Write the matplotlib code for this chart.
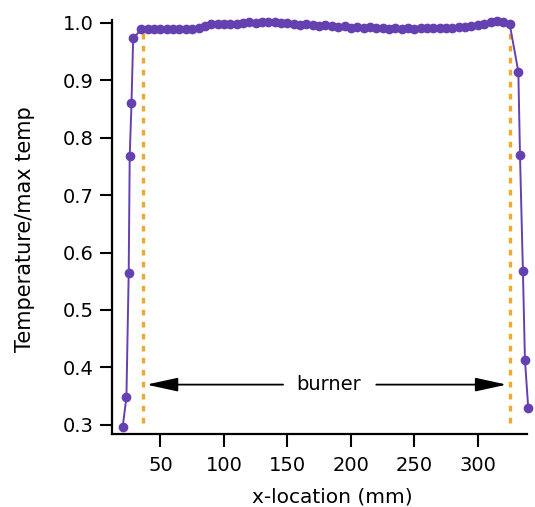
import matplotlib
matplotlib.use("Agg")
import matplotlib.pyplot as plt

plt.rcParams['font.family'] = ['DejaVu Sans']

# ---- data ----
x_mm = [20.3, 23.2, 25.0, 25.8, 27.2, 28.5,
        35, 40, 45, 50, 55, 60, 65, 70, 75, 80, 85, 90, 95, 100,
        105, 110, 115, 120, 125, 130, 135, 140, 145, 150, 155, 160,
        165, 170, 175, 180, 185, 190, 195, 200, 205, 210, 215, 220,
        225, 230, 235, 240, 245, 250, 255, 260, 265, 270, 275, 280,
        285, 290, 295, 300, 305, 310, 315, 320, 325,
        331.9, 333.2, 335.5, 337.1, 339.7]
temp_ratio = [0.297, 0.348, 0.565, 0.768, 0.860, 0.973,
              0.989, 0.990, 0.990, 0.990, 0.989, 0.990, 0.990, 0.990, 0.990, 0.991,
              0.995, 0.998, 0.999, 0.999, 0.998, 0.999, 1.000, 1.001, 1.000, 1.002,
              1.002, 1.001, 1.000, 1.000, 0.998, 0.997, 0.998, 0.996, 0.995, 0.996,
              0.994, 0.993, 0.994, 0.992, 0.993, 0.992, 0.993, 0.991, 0.992, 0.990,
              0.991, 0.990, 0.991, 0.990, 0.991, 0.991, 0.992, 0.991, 0.992, 0.992,
              0.993, 0.993, 0.994, 0.996, 0.999, 1.001, 1.003, 1.001, 0.999,
              0.915, 0.770, 0.568, 0.413, 0.329]
burner_edges = [36.0, 325.3]
burner_y = [0.303, 0.99]
burner_label = "burner"
burner_label_x = 182.7
arrow_y = 0.37
arrow_left = [146.6, 39.0]
arrow_right = [220.0, 322.7]
x_ticks = [50, 100, 150, 200, 250, 300]
y_ticks = [0.3, 0.4, 0.5, 0.6, 0.7, 0.8, 0.9, 1.0]

purple = '#6540b0'
orange = '#eeaa30'
fs = 14

fig = plt.figure(figsize=(5.35, 5.07), dpi=100)
ax = fig.add_axes([0.209, 0.144, 0.776, 0.817])

for xe in burner_edges:
    ax.plot([xe, xe], burner_y, color=orange, lw=2.4, linestyle=(0, (1.7, 1.9)), zorder=2)

ax.plot(x_mm, temp_ratio, color=purple, lw=1.4, marker='o', markersize=7,
        markeredgewidth=0, zorder=3, clip_on=False)

ax.text(burner_label_x, arrow_y, burner_label, fontsize=fs, ha='center', va='center')
for seg in (arrow_left, arrow_right):
    ax.annotate('', xy=(seg[1], arrow_y), xytext=(seg[0], arrow_y),
                arrowprops=dict(arrowstyle='-|>,head_length=1.6,head_width=0.35',
                                color='black', lw=1.3, shrinkA=0, shrinkB=0,
                                mutation_scale=12))

ax.set_xlim(11.7, 338.7)
ax.set_ylim(0.284, 1.0055)
ax.set_xticks(x_ticks)
ax.set_yticks(y_ticks)
ax.set_yticklabels([f"{v:.1f}" for v in y_ticks])
ax.spines['top'].set_visible(False)
ax.spines['right'].set_visible(False)
for s in ('left', 'bottom'):
    ax.spines[s].set_linewidth(1.6)
ax.tick_params(direction='out', length=9, width=1.5, labelsize=fs)
ax.tick_params(axis='x', pad=7)
ax.tick_params(axis='y', pad=4)

ax.set_xlabel("x-location (mm)", fontsize=fs + 0.5)
ax.set_ylabel("Temperature/max temp", fontsize=fs + 1)
ax.xaxis.set_label_coords(0.53, -0.13)
ax.yaxis.set_label_coords(-0.185, 0.495)

fig.savefig("out.png", dpi=100)
